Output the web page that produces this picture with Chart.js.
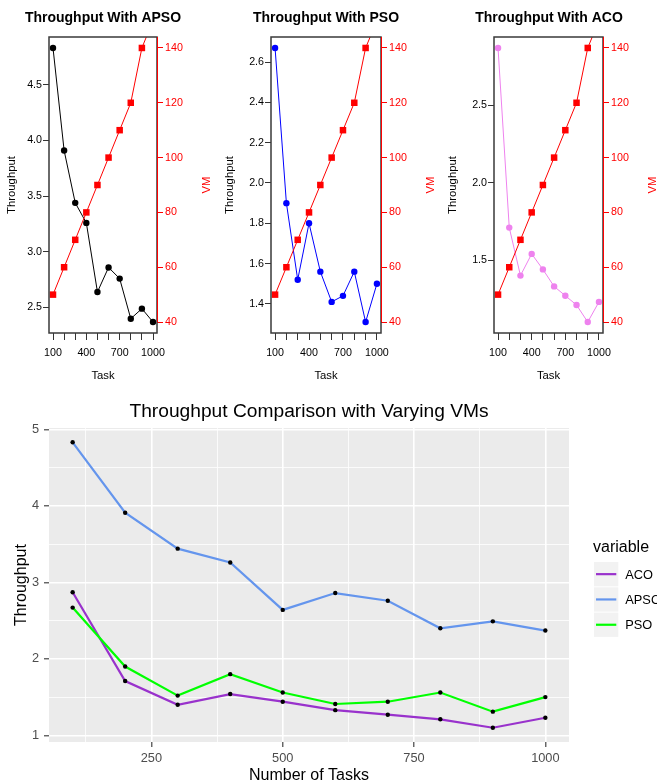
<!DOCTYPE html>
<html>
<head>
<meta charset="utf-8">
<title>Throughput</title>
<script src="https://cdn.jsdelivr.net/npm/chart.js@4.4.1/dist/chart.umd.min.js"></script>
<style>
  html, body { margin: 0; padding: 0; background: #fff; overflow: hidden; }
  #wrap { position: relative; width: 657px; height: 784px; overflow: hidden; }
  canvas { position: absolute; }
</style>
</head>
<body>
<div id="wrap">
  <canvas id="apsoChart"></canvas>
  <canvas id="psoChart"></canvas>
  <canvas id="acoChart"></canvas>
  <canvas id="compareChart"></canvas>
</div>
<script>
// data
const tasks = [100, 200, 300, 400, 500, 600, 700, 800, 900, 1000];
const apso = [4.83, 3.91, 3.44, 3.26, 2.64, 2.86, 2.76, 2.40, 2.49, 2.37];
const pso = [2.67, 1.90, 1.52, 1.80, 1.56, 1.41, 1.44, 1.56, 1.31, 1.50];
const aco = [2.87, 1.71, 1.40, 1.54, 1.44, 1.33, 1.27, 1.21, 1.10, 1.23];
const vms = [50, 60, 70, 80, 90, 100, 110, 120, 140, 150];

// tick labels
const taskLabels = [100, 400, 700, 1000];
const vmTicks = [40, 60, 80, 100, 120, 140];
const apsoTicks = [2.5, 3.0, 3.5, 4.0, 4.5];
const psoTicks = [1.4, 1.6, 1.8, 2.0, 2.2, 2.4, 2.6];
const acoTicks = [1.5, 2.0, 2.5];
const compareXTicks = [250, 500, 750, 1000];
const compareXMinor = [125, 375, 625, 875];
const compareYTicks = [1, 2, 3, 4, 5];
const compareYMinor = [1.5, 2.5, 3.5, 4.5];

// legend series
const seriesNames = ['ACO', 'APSO', 'PSO'];
const seriesColors = ['#9932CC', '#6495ED', '#00FF00'];

const FONT = "'Liberation Sans', Arial, sans-serif";
Chart.defaults.font.family = FONT;

function expand(values, frac) {
  const lo = Math.min(...values);
  const hi = Math.max(...values);
  const pad = (hi - lo) * frac;
  return [lo - pad, hi + pad];
}

function points(values) {
  return tasks.map((t, i) => ({ x: t, y: values[i] }));
}

// box round the plot, red VM axis line and its label (base R look)
const rFrame = {
  id: 'rFrame',
  afterDraw(chart, args, opts) {
    const { ctx, chartArea: a } = chart;
    const vm = chart.scales.vm;
    ctx.save();
    ctx.strokeStyle = '#3a3a3a';
    ctx.lineWidth = 1.5;
    ctx.strokeRect(a.left, a.top, a.right - a.left, a.bottom - a.top);

    ctx.strokeStyle = '#ff0000';
    ctx.lineWidth = 1;
    ctx.beginPath();
    ctx.moveTo(a.right + 0.5, a.top);
    ctx.lineTo(a.right + 0.5, vm.getPixelForValue(vmTicks[0]));
    ctx.stroke();

    ctx.translate(a.right + opts.vmGap, (a.top + a.bottom) / 2);
    ctx.rotate(-Math.PI / 2);
    ctx.fillStyle = '#ff0000';
    ctx.font = '11.3px ' + FONT;
    ctx.textAlign = 'center';
    ctx.textBaseline = 'middle';
    ctx.fillText('VM', 0, 0);
    ctx.restore();
  }
};

function topPanel(id, cfg) {
  const canvas = document.getElementById(id);
  const half = 113;
  const center = Math.round((cfg.plotLeft + cfg.plotRight) / 2);
  const x0 = center - half;
  canvas.width = half * 2;
  canvas.height = 390;
  canvas.style.left = x0 + 'px';
  canvas.style.top = '0px';

  const leftW = cfg.plotLeft - x0;
  const rightW = half * 2 - (cfg.plotRight - x0);
  const [yMin, yMax] = expand(cfg.values, 0.04);
  const [xMin, xMax] = expand(tasks, 0.04);
  const [vMin, vMax] = expand(vmTicks, 0.04);

  new Chart(canvas, {
    type: 'line',
    data: {
      datasets: [
        {
          label: cfg.name,
          data: points(cfg.values),
          yAxisID: 'y',
          borderColor: cfg.color,
          backgroundColor: cfg.color,
          pointBackgroundColor: cfg.color,
          pointBorderWidth: 0,
          pointRadius: 3.2,
          borderWidth: 1,
          order: 1
        },
        {
          label: 'VM',
          data: points(vms),
          yAxisID: 'vm',
          borderColor: '#ff0000',
          backgroundColor: '#ff0000',
          pointBackgroundColor: '#ff0000',
          pointStyle: 'rect',
          pointBorderWidth: 0,
          pointRadius: 4.6,
          borderWidth: 1,
          order: 0
        }
      ]
    },
    options: {
      responsive: false,
      animation: false,
      devicePixelRatio: 1,
      layout: { padding: 0 },
      plugins: {
        legend: { display: false },
        tooltip: { enabled: false },
        title: {
          display: true,
          text: cfg.title,
          color: '#000',
          font: { size: 14, weight: 'bold' },
          padding: { top: 9.6, bottom: 10.6 }
        },
        rFrame: { vmGap: 50 }
      },
      scales: {
        x: {
          type: 'linear',
          min: xMin,
          max: xMax,
          afterFit: s => { s.height = 57; },
          afterBuildTicks: s => { s.ticks = tasks.map(v => ({ value: v })); },
          ticks: {
            autoSkip: false,
            maxRotation: 0,
            color: '#000',
            font: { size: 10.7 },
            padding: 6.6,
            callback: v => taskLabels.includes(v) ? String(v) : ''
          },
          grid: { drawOnChartArea: false, tickLength: 7, tickColor: '#333', tickWidth: 1 },
          border: { display: false },
          title: {
            display: true,
            text: 'Task',
            color: '#000',
            font: { size: 11.3 },
            padding: { top: 0, bottom: 7.2 }
          }
        },
        y: {
          position: 'left',
          min: yMin,
          max: yMax,
          afterFit: s => { s.width = leftW; },
          afterBuildTicks: s => { s.ticks = cfg.ticks.map(v => ({ value: v })); },
          ticks: {
            color: '#000',
            font: { size: 10.7 },
            padding: 1,
            callback: v => v.toFixed(1)
          },
          grid: { drawOnChartArea: false, tickLength: 6, tickColor: '#333', tickWidth: 1 },
          border: { display: false },
          title: {
            display: true,
            text: 'Throughput',
            color: '#000',
            font: { size: 11.3 },
            padding: { top: cfg.ylabX - x0 - 6.78, bottom: 0 }
          }
        },
        vm: {
          position: 'right',
          min: vMin,
          max: vMax,
          afterFit: s => { s.width = rightW; },
          afterBuildTicks: s => { s.ticks = vmTicks.map(v => ({ value: v })); },
          ticks: {
            color: '#ff0000',
            font: { size: 10.7 },
            padding: 2,
            callback: v => String(v)
          },
          grid: { drawOnChartArea: false, tickLength: 6, tickColor: '#ff0000', tickWidth: 1 },
          border: { display: false }
        }
      }
    },
    plugins: [rFrame]
  });
}

topPanel('apsoChart', {
  name: 'APSO', title: 'Throughput With APSO', values: apso, ticks: apsoTicks,
  color: '#000000', plotLeft: 49, plotRight: 157, ylabX: 12
});
topPanel('psoChart', {
  name: 'PSO', title: 'Throughput With PSO', values: pso, ticks: psoTicks,
  color: '#0000ff', plotLeft: 271, plotRight: 381, ylabX: 230
});
topPanel('acoChart', {
  name: 'ACO', title: 'Throughput With ACO', values: aco, ticks: acoTicks,
  color: '#ee82ee', plotLeft: 494, plotRight: 603, ylabX: 453
});

// ggplot style comparison chart
const panelBg = {
  id: 'panelBg',
  beforeDraw(chart) {
    const { ctx, chartArea: a } = chart;
    ctx.save();
    ctx.fillStyle = '#ebebeb';
    ctx.fillRect(a.left, a.top, a.right - a.left, a.bottom - a.top);
    ctx.restore();
  }
};

const ggLegend = {
  id: 'ggLegend',
  afterDraw(chart, args, opts) {
    const { ctx } = chart;
    ctx.save();
    ctx.textAlign = 'left';
    ctx.textBaseline = 'middle';
    ctx.fillStyle = '#000';
    ctx.font = '16px ' + FONT;
    ctx.fillText(opts.title, opts.x, opts.titleY);
    chart.data.datasets.forEach((ds, i) => {
      const top = opts.keyTop + i * opts.pitch;
      const mid = top + opts.key / 2;
      ctx.fillStyle = '#f2f2f2';
      ctx.fillRect(opts.x + 1, top, opts.key, opts.key);
      ctx.strokeStyle = ds.borderColor;
      ctx.lineWidth = 2.2;
      ctx.beginPath();
      ctx.moveTo(opts.x + 3, mid);
      ctx.lineTo(opts.x + opts.key - 1, mid);
      ctx.stroke();
      ctx.fillStyle = '#000';
      ctx.font = '12.8px ' + FONT;
      ctx.fillText(ds.label, opts.x + opts.key + 8, mid + 1);
    });
    ctx.restore();
  }
};

const compareCanvas = document.getElementById('compareChart');
compareCanvas.width = 657;
compareCanvas.height = 394;
compareCanvas.style.left = '0px';
compareCanvas.style.top = '390px';

const [cxMin, cxMax] = expand(tasks, 0.05);
const [cyMin, cyMax] = expand(apso.concat(pso, aco), 0.05);
const seriesValues = [aco, apso, pso];

new Chart(compareCanvas, {
  type: 'line',
  data: {
    datasets: seriesNames.map((name, i) => ({
      label: name,
      data: points(seriesValues[i]),
      borderColor: seriesColors[i],
      backgroundColor: seriesColors[i],
      borderWidth: 2.2,
      pointRadius: 2.2,
      pointBackgroundColor: '#000',
      pointBorderWidth: 0,
      order: seriesNames.length - i
    }))
  },
  options: {
    responsive: false,
    animation: false,
    devicePixelRatio: 1,
    layout: { padding: { left: 0, right: 88, top: 0, bottom: 0 } },
    plugins: {
      legend: { display: false },
      tooltip: { enabled: false },
      title: {
        display: true,
        fullSize: false,
        text: 'Throughput Comparison with Varying VMs',
        color: '#000',
        font: { size: 19.2, weight: 'normal' },
        padding: { top: 10.5, bottom: 4.5 }
      },
      ggLegend: { title: 'variable', x: 593, titleY: 158, keyTop: 172, key: 24.3, pitch: 25.3 }
    },
    scales: {
      x: {
        type: 'linear',
        min: cxMin,
        max: cxMax,
        afterFit: s => { s.height = 42; },
        afterBuildTicks: s => {
          s.ticks = compareXMinor.concat(compareXTicks).sort((a, b) => a - b).map(v => ({ value: v }));
        },
        ticks: {
          autoSkip: false,
          maxRotation: 0,
          color: '#4d4d4d',
          font: { size: 12.8 },
          padding: 3.3,
          callback: v => compareXTicks.includes(v) ? String(v) : ''
        },
        grid: {
          color: '#ffffff',
          lineWidth: c => compareXTicks.includes(c.tick.value) ? 1.6 : 0.8,
          tickLength: 5,
          tickWidth: 1.1,
          tickColor: c => compareXTicks.includes(c.tick.value) ? '#333333' : 'rgba(0,0,0,0)'
        },
        border: { display: false },
        title: {
          display: true,
          text: 'Number of Tasks',
          color: '#000',
          font: { size: 16 },
          padding: { top: 0, bottom: -1.6 }
        }
      },
      y: {
        min: cyMin,
        max: cyMax,
        afterFit: s => { s.width = 49; },
        afterBuildTicks: s => {
          s.ticks = compareYMinor.concat(compareYTicks).sort((a, b) => a - b).map(v => ({ value: v }));
        },
        ticks: {
          color: '#4d4d4d',
          font: { size: 12.8 },
          padding: 5,
          callback: v => compareYTicks.includes(v) ? String(v) : ''
        },
        grid: {
          color: '#ffffff',
          lineWidth: c => compareYTicks.includes(c.tick.value) ? 1.6 : 0.8,
          tickLength: 5,
          tickWidth: 1.1,
          tickColor: c => compareYTicks.includes(c.tick.value) ? '#333333' : 'rgba(0,0,0,0)'
        },
        border: { display: false },
        title: {
          display: true,
          text: 'Throughput',
          color: '#000',
          font: { size: 16 },
          padding: { top: 12.4, bottom: 0 }
        }
      }
    }
  },
  plugins: [panelBg, ggLegend]
});
</script>
</body>
</html>
